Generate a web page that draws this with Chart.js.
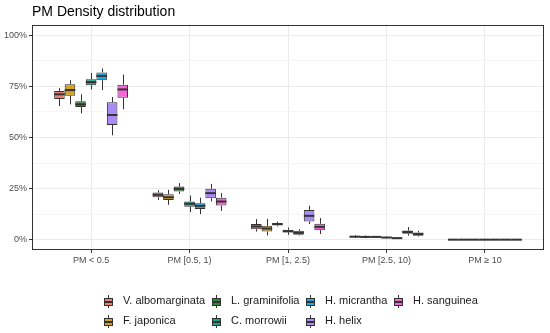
<!DOCTYPE html>
<html>
<head>
<meta charset="utf-8">
<script src="https://cdn.jsdelivr.net/npm/chart.js@4/dist/chart.umd.min.js"></script>
<style>
  html, body { margin:0; padding:0; background:#fff; }
  #wrap { position:relative; width:550px; height:333px; font-family:"Liberation Sans", Arial, sans-serif; }
  #c { position:absolute; left:0; top:0; }
  #title { position:absolute; left:32px; top:3px; font-size:14px; color:#000; white-space:nowrap; }
  .lg-text { position:absolute; font-size:11px; color:#1a1a1a; white-space:nowrap; line-height:13px; }
  .lg-key { position:absolute; width:17px; height:17px; }
  .lg-wh { position:absolute; left:8px; top:2px; width:1px; height:13px; background:#333; }
  .lg-box { position:absolute; left:4px; top:5px; width:7px; height:6px; border:1px solid #333; box-sizing:content-box; }
  .lg-med { position:absolute; left:4px; top:8px; width:9px; height:1.5px; background:#333; }
</style>
</head>
<body>
<div id="wrap">
  <canvas id="c" width="550" height="333"></canvas>
  <div id="title">PM Density distribution</div>
  <div id="legend"></div>
</div>
<script>
// ---- data ----
const categories = ["PM < 0.5", "PM [0.5, 1)", "PM [1, 2.5)", "PM [2.5, 10)", "PM \u2265 10"];
const species = ["V. albomarginata", "F. japonica", "L. graminifolia", "C. morrowii", "H. micrantha", "H. helix", "H. sanguinea"];
const speciesColors = ["#F07B72", "#D4A21C", "#2B8A2E", "#16A58B", "#1EACE0", "#A98BF7", "#F766D9"];
const yTickValues = [0, 25, 50, 75, 100];
const yMinorValues = [12.5, 37.5, 62.5, 87.5];

// rows = species, cols = categories (values in %)
const lowWhisker = [
  [65.4, 19.5, 4.0, 0.9, 0.0],
  [66.2, 17.1, 2.1, 0.8, 0.0],
  [61.8, 22.4, 6.5, 1.0, 0.0],
  [73.5, 13.5, 2.4, 0.7, 0.0],
  [73.2, 12.5, 2.1, 0.4, 0.0],
  [51.1, 18.7, 7.7, 2.0, 0.0],
  [63.8, 14.1, 2.8, 1.6, 0.0]
];
const lowerQuartile = [
  [68.8, 20.8, 5.2, 1.2, 0.0],
  [70.4, 19.5, 4.0, 1.1, 0.0],
  [64.9, 23.6, 7.0, 1.2, 0.0],
  [75.6, 16.2, 3.6, 0.9, 0.0],
  [78.0, 15.1, 2.4, 0.6, 0.0],
  [56.1, 20.3, 8.9, 2.9, 0.0],
  [69.4, 16.7, 4.7, 2.0, 0.0]
];
const medianValue = [
  [71.1, 22.0, 6.5, 1.5, 0.05],
  [73.2, 20.8, 5.5, 1.4, 0.05],
  [66.2, 24.9, 7.7, 1.4, 0.05],
  [77.1, 17.6, 4.2, 1.1, 0.05],
  [80.1, 16.6, 3.4, 0.8, 0.05],
  [61.0, 22.8, 11.7, 3.8, 0.05],
  [73.5, 18.7, 6.3, 2.8, 0.05]
];
const upperQuartile = [
  [72.7, 23.1, 7.7, 1.8, 0.15],
  [76.0, 22.3, 6.8, 1.7, 0.15],
  [67.7, 26.0, 8.1, 1.6, 0.15],
  [78.5, 18.7, 4.9, 1.3, 0.15],
  [81.8, 17.9, 4.4, 1.0, 0.15],
  [67.2, 24.9, 14.6, 4.5, 0.15],
  [75.8, 20.6, 7.8, 3.6, 0.15]
];
const highWhisker = [
  [74.1, 24.2, 10.1, 2.2, 0.3],
  [78.0, 24.4, 10.2, 2.1, 0.3],
  [71.1, 27.7, 8.9, 1.8, 0.3],
  [81.6, 21.6, 6.0, 1.5, 0.3],
  [83.8, 20.6, 5.2, 1.2, 0.3],
  [69.8, 27.3, 16.6, 6.2, 0.3],
  [80.8, 22.8, 10.6, 4.4, 0.3]
];

// ---- chart ----
const FONT = "'Liberation Sans', Arial, sans-serif";
const LINE = "#333333";

const datasets = species.map((name, i) => ({
  label: name,
  data: categories.map((c, j) => ({ x: j + 1, y: [lowerQuartile[i][j], upperQuartile[i][j]] })),
  backgroundColor: speciesColors[i],
  borderColor: LINE,
  borderWidth: 1,
  borderSkipped: false,
  categoryPercentage: 0.75,
  barPercentage: 1.0
}));

const boxPlugin = {
  id: 'boxplot',
  beforeDatasetsDraw(chart) {
    const ctx = chart.ctx, ys = chart.scales.y;
    ctx.save();
    ctx.strokeStyle = LINE;
    ctx.lineWidth = 1;
    chart.data.datasets.forEach((ds, i) => {
      chart.getDatasetMeta(i).data.forEach((bar, j) => {
        const x = Math.round(bar.x) + 0.5;
        ctx.beginPath();
        ctx.moveTo(x, ys.getPixelForValue(highWhisker[i][j]));
        ctx.lineTo(x, ys.getPixelForValue(upperQuartile[i][j]));
        ctx.moveTo(x, ys.getPixelForValue(lowerQuartile[i][j]));
        ctx.lineTo(x, ys.getPixelForValue(lowWhisker[i][j]));
        ctx.stroke();
      });
    });
    ctx.restore();
  },
  afterDatasetsDraw(chart) {
    const ctx = chart.ctx, ys = chart.scales.y;
    ctx.save();
    ctx.strokeStyle = LINE;
    ctx.lineWidth = 2;
    chart.data.datasets.forEach((ds, i) => {
      chart.getDatasetMeta(i).data.forEach((bar, j) => {
        const y = ys.getPixelForValue(medianValue[i][j]);
        ctx.beginPath();
        ctx.moveTo(bar.x - bar.width / 2, y);
        ctx.lineTo(bar.x + bar.width / 2, y);
        ctx.stroke();
      });
    });
    // panel border
    const a = chart.chartArea;
    ctx.lineWidth = 1;
    ctx.strokeStyle = LINE;
    ctx.strokeRect(Math.round(a.left) + 0.5, Math.round(a.top) + 0.5, Math.round(a.right - a.left) - 1, Math.round(a.bottom - a.top) - 1);
    ctx.restore();
  }
};

new Chart(document.getElementById('c'), {
  type: 'bar',
  data: { datasets },
  options: {
    responsive: false,
    animation: false,
    layout: { padding: { top: 25, right: 6, left: 0, bottom: 0 } },
    plugins: { legend: { display: false }, tooltip: { enabled: false }, title: { display: false } },
    scales: {
      x: {
        type: 'linear',
        min: 0.4,
        max: 5.6,
        offset: false,
        afterBuildTicks(s) { s.ticks = categories.map((c, j) => ({ value: j + 1 })); },
        afterFit(s) { s.height = 83; },
        ticks: {
          autoSkip: false,
          maxRotation: 0,
          padding: 2,
          color: '#4D4D4D',
          font: { family: FONT, size: 9 },
          callback: (v) => categories[Math.round(v) - 1]
        },
        grid: { color: '#EBEBEB', lineWidth: 1, tickLength: 3, tickColor: LINE, offset: false },
        border: { display: false }
      },
      y: {
        min: -5,
        max: 105,
        afterBuildTicks(s) {
          const all = yTickValues.concat(yMinorValues).sort((a, b) => a - b);
          s.ticks = all.map(v => ({ value: v }));
        },
        afterFit(s) { s.width = 32; },
        ticks: {
          padding: 2,
          color: '#4D4D4D',
          font: { family: FONT, size: 9 },
          callback: (v) => (yTickValues.includes(v) ? v + '%' : '')
        },
        grid: {
          color: (c) => (c.tick && yTickValues.includes(c.tick.value)) ? '#EBEBEB' : '#F5F5F5',
          lineWidth: 1,
          tickLength: 3,
          tickColor: (c) => (c.tick && yTickValues.includes(c.tick.value)) ? LINE : 'rgba(0,0,0,0)'
        },
        border: { display: false }
      }
    }
  },
  plugins: [boxPlugin]
});

// ---- legend (HTML) ----
const legendCols = [105, 213, 307, 395];
const legendRows = [301, 321];
const legend = document.getElementById('legend');
species.forEach((name, i) => {
  const col = Math.floor(i / 2), row = i % 2;
  const cx = legendCols[col], cy = legendRows[row];
  const key = document.createElement('div');
  key.className = 'lg-key';
  key.style.left = (cx - 5) + 'px';
  key.style.top = (cy - 8) + 'px';
  key.innerHTML = '<div class="lg-wh"></div><div class="lg-box" style="background:' + speciesColors[i] + '"></div><div class="lg-med"></div>';
  legend.appendChild(key);
  const t = document.createElement('div');
  t.className = 'lg-text';
  t.textContent = name;
  t.style.left = (cx + 18) + 'px';
  t.style.top = (cy - 7) + 'px';
  legend.appendChild(t);
});
</script>
</body>
</html>
